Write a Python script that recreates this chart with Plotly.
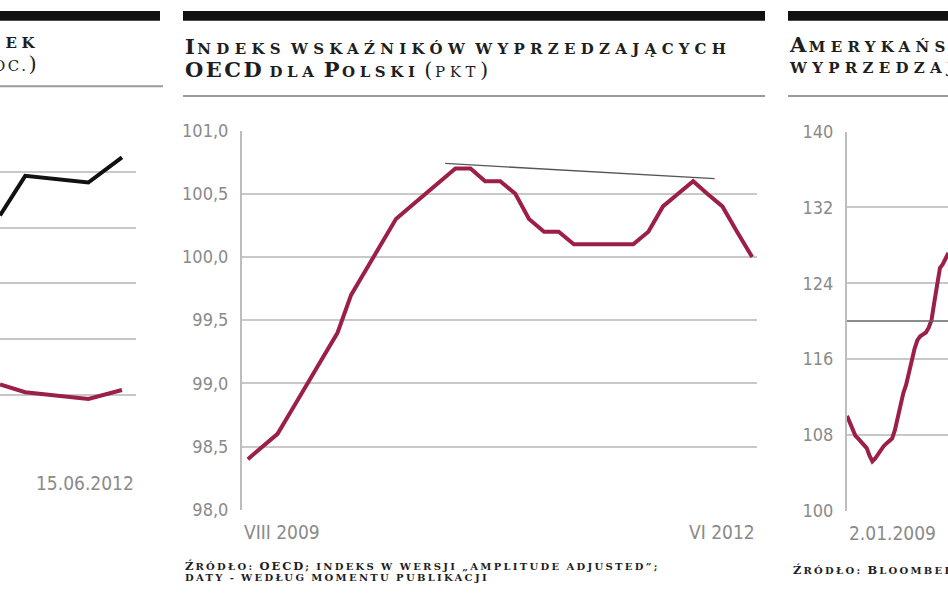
import html
import plotly.graph_objects as go

W, H = 948, 593

# ---------------- data ----------------
# left panel (cut-off chart, percent)
left_dates = ["2012-05-17", "2012-05-23", "2012-06-07", "2012-06-15"]
left_black = [4.22, 4.93, 4.81, 5.26]
left_red = [1.19, 1.05, 0.93, 1.09]
left_x_label = "15.06.2012"

# middle panel: OECD CLI for Poland, monthly VIII 2009 - VI 2012
oecd_months = [f"{2009 + (7 + i) // 12}-{(7 + i) % 12 + 1:02d}-01" for i in range(35)]
oecd_values = [98.4, 98.5, 98.6, 98.8, 99.0, 99.2, 99.4, 99.7, 99.9, 100.1,
               100.3, 100.4, 100.5, 100.6, 100.7, 100.7, 100.6, 100.6, 100.5, 100.3,
               100.2, 100.2, 100.1, 100.1, 100.1, 100.1, 100.1, 100.2, 100.4, 100.5,
               100.6, 100.5, 100.4, 100.2, 100.0]
trend_dates = ["2010-09-10", "2012-03-16"]
trend_values = [100.74, 100.62]
oecd_ticks = [98.0, 98.5, 99.0, 99.5, 100.0, 100.5, 101.0]
oecd_ticktext = ["98,0", "98,5", "99,0", "99,5", "100,0", "100,5", "101,0"]
oecd_x_labels = ["VIII 2009", "VI 2012"]

# right panel: US leading index (weekly, from 2.01.2009)
us_weeks = [f"2009-{m:02d}-{d:02d}" for m, d in [
    (1, 2), (1, 9), (1, 16), (1, 23), (1, 30), (2, 6), (2, 13), (2, 20), (2, 27),
    (3, 6), (3, 13), (3, 20), (3, 27), (4, 3), (4, 10), (4, 17), (4, 24), (5, 1),
    (5, 8), (5, 15), (5, 22), (5, 29), (6, 5), (6, 12), (6, 19), (6, 26), (7, 3),
    (7, 10), (7, 17), (7, 24), (7, 31), (8, 7), (8, 14), (8, 21), (8, 28), (9, 4),
    (9, 11)]]
us_values = [110.0, 109.2, 108.4, 107.9, 107.6, 107.3, 107.0, 106.6, 105.8, 105.2,
             105.5, 106.0, 106.4, 106.8, 107.1, 107.4, 107.6, 108.5, 109.8, 111.2,
             112.4, 113.3, 114.7, 115.8, 117.1, 118.0, 118.4, 118.6, 118.8, 119.3,
             120.1, 122.0, 124.0, 125.6, 126.0, 126.6, 127.2]
us_ref_level = 120
us_ticks = [100, 108, 116, 124, 132, 140]
us_x_label = "2.01.2009"

# titles / sources
left_title = ["ek", "oc.)"]
mid_title = ["Indeks wskaźników wyprzedzających", "OECD dla Polski", "(pkt)"]
right_title = ["Amerykański wskaźnik", "wyprzedzający", "(pkt)"]
mid_source = ["Źródło: OECD; indeks w wersji „amplitude adjusted”;",
              "daty - według momentu publikacji"]
right_source = "Źródło: Bloomberg"

# ---------------- style ----------------
RED = "#9c1f48"
GRID = "#c8c8c8"
TICKGRAY = "#8a8a8a"
SERIF = "DejaVu Serif, serif"
COND = "'DejaVu Sans Condensed', 'Liberation Sans Narrow', 'Roboto Condensed', sans-serif"


def px(x):
    return x / W


def py(y):
    return 1 - y / H


def smallcaps(text, big, small, ls_big, ls_small, ls_space=0, weight="bold"):
    """Wide small caps: capitals at `big` size, other letters upper-cased at `small` size."""
    def cls(ch):
        if ch == " ":
            return "W"
        return "B" if (ch.isupper() or ch in "()") else "S"
    runs, cur, cur_cls = [], "", None
    for ch in text:
        c = cls(ch)
        if c != cur_cls and cur:
            runs.append((cur_cls, cur))
            cur = ""
        cur_cls = c
        cur += ch
    if cur:
        runs.append((cur_cls, cur))
    out = []
    for c, t in runs:
        size, ls = {"B": (big, ls_big), "S": (small, ls_small), "W": (small, ls_space)}[c]
        out.append(f'<span style="font-size:{size}px;letter-spacing:{ls}px;font-weight:{weight}">'
                   f'{html.escape(t.upper(), quote=False)}</span>')
    return "".join(out)


def ttl(text, weight="bold", ls_small=4.6):
    return smallcaps(text, 21, 15, 2.5, ls_small, 0, weight)


def src(text):
    return smallcaps(text, 11.5, 10, 2.0, 2.3, 1.5)


fig = go.Figure()

fig.add_trace(go.Scatter(x=left_dates, y=left_black, mode="lines", xaxis="x", yaxis="y",
                         line=dict(color="#111111", width=4), showlegend=False))
fig.add_trace(go.Scatter(x=left_dates, y=left_red, mode="lines", xaxis="x", yaxis="y",
                         line=dict(color=RED, width=4), showlegend=False))
fig.add_trace(go.Scatter(x=oecd_months, y=oecd_values, mode="lines", xaxis="x2", yaxis="y2",
                         line=dict(color=RED, width=4), showlegend=False))
fig.add_trace(go.Scatter(x=trend_dates, y=trend_values, mode="lines", xaxis="x2", yaxis="y2",
                         line=dict(color="#555555", width=1.3), showlegend=False))
fig.add_trace(go.Scatter(x=us_weeks, y=us_values, mode="lines", xaxis="x3", yaxis="y3",
                         line=dict(color=RED, width=4), showlegend=False))

xcommon = dict(showgrid=False, zeroline=False, showticklabels=False, showline=False, type="date")
ycommon = dict(showgrid=True, gridcolor=GRID, gridwidth=2, zeroline=False,
               tickfont=dict(family=COND, size=18, color=TICKGRAY), ticks="", ticklabelstandoff=8)

fig.update_layout(
    width=W, height=H, margin=dict(l=0, r=0, t=0, b=0),
    paper_bgcolor="white", plot_bgcolor="white",
    xaxis=dict(domain=[0, px(136)], range=["2012-05-17", "2012-06-18 08:00"], anchor="y", **xcommon),
    yaxis=dict(domain=[py(456), py(109)], range=[0, 6], dtick=1, showticklabels=False,
               anchor="x", **ycommon),
    xaxis2=dict(domain=[px(242), px(757)], range=["2009-07-20", "2012-06-11"], anchor="y2", **xcommon),
    yaxis2=dict(domain=[py(517), py(124)], range=[98, 101], tickvals=oecd_ticks, ticktext=oecd_ticktext,
                showline=True, linecolor="#bdbdbd", linewidth=2, anchor="x2", **ycommon),
    xaxis3=dict(domain=[px(847), 1], range=["2009-01-02", "2009-09-10"], anchor="y3", **xcommon),
    yaxis3=dict(domain=[py(518), py(125)], range=[100, 140], tickvals=us_ticks,
                showline=True, linecolor="#bdbdbd", linewidth=2, anchor="x3", **ycommon),
)

shapes = []
# black header bars
for x0, x1 in [(0, 160), (183, 765), (788, 948)]:
    shapes.append(dict(type="rect", xref="paper", yref="paper", x0=px(x0), x1=px(x1),
                       y0=py(10), y1=1, fillcolor="#111111", line=dict(width=0)))
# rules under titles
for x0, x1, y in [(0, 163, 78), (183, 765, 88), (788, 948, 88)]:
    shapes.append(dict(type="line", xref="paper", yref="paper", x0=px(x0), x1=px(x1),
                       y0=py(y), y1=py(y), line=dict(color="#9a9a9a", width=2)))
# reference level in right panel
shapes.append(dict(type="line", xref="x3 domain", yref="y3", x0=0, x1=1,
                   y0=us_ref_level, y1=us_ref_level, line=dict(color="#666666", width=1.5)))
fig.update_layout(shapes=shapes)


def block(lines, x, top, base_size, anchor="left"):
    fig.add_annotation(xref="paper", yref="paper", x=px(x), y=py(top), xanchor=anchor, yanchor="top",
                       align=anchor, showarrow=False, borderpad=0, text="<br>".join(lines),
                       font=dict(family=SERIF, size=base_size, color="#1e1e1e"))


# titles (two lines each)
block([ttl(left_title[0]), ttl(left_title[1], "normal", 2.5)], 40, 23, 17.7, "right")
block([ttl(mid_title[0], ls_small=5.3),
       ttl(mid_title[1]) + ttl(" " + mid_title[2], "normal")], 184, 22.5, 17.7)
block([ttl(right_title[0], ls_small=5.3),
       ttl(right_title[1], ls_small=5.3) + ttl(" " + right_title[2], "normal")], 788, 20.5, 16.2)

# sources
block([src(mid_source[0]), src(mid_source[1])], 184, 567, 8.5)
block([src(right_source)], 792, 571, 8.5)

XL_FONT = dict(family=COND, size=19, color=TICKGRAY)
fig.add_annotation(xref="x domain", yref="paper", x=1, y=py(489), xanchor="right", yanchor="middle",
                   showarrow=False, text=left_x_label, font=XL_FONT)
fig.add_annotation(xref="x2 domain", yref="paper", x=0, y=py(540), xanchor="left", yanchor="middle",
                   showarrow=False, text=oecd_x_labels[0], font=XL_FONT)
fig.add_annotation(xref="x2 domain", yref="paper", x=1, y=py(540), xanchor="right", yanchor="middle",
                   showarrow=False, text=oecd_x_labels[1], font=XL_FONT)
fig.add_annotation(xref="x3 domain", yref="paper", x=0, y=py(541), xanchor="left", yanchor="middle",
                   showarrow=False, text=us_x_label, font=XL_FONT)

fig.write_html("out.html", config={"displayModeBar": False},
               post_script="document.body.style.margin='0px';")
